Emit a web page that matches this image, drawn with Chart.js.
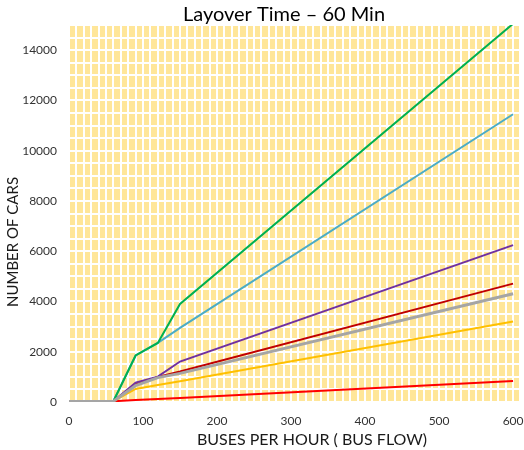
<!DOCTYPE html>
<html>
<head>
<meta charset="utf-8">
<script src="https://cdn.jsdelivr.net/npm/chart.js@4"></script>
<style>
  html, body { margin: 0; padding: 0; background: #fff; }
  #wrap { width: 524px; height: 450px; }
</style>
</head>
<body>
<div id="wrap"><canvas id="chart" width="524" height="450"></canvas></div>
<script>
// bus flow (buses per hour)
const busFlow = [0, 30, 60, 90, 120, 150, 600];

// number of cars, one array per line
const greenCars  = [20, 20, 30, 1850, 2350, 3900, 15050];
const blueCars   = [20, 20, 30, 1850, 2350, 2950, 11450];
const purpleCars = [20, 20, 30, 770, 1010, 1610, 6240];
const redCars    = [20, 20, 30, 700, 1000, 1210, 4710];
const greyCars   = [20, 20, 30, 650, 970, 1140, 4310];
const yellowCars = [20, 20, 30, 520, 675, 826, 3206];
const brightRed  = [20, 20, 30, 75, 120, 160, 838];

const chartTitle = 'Layover Time \u2013 60 Min';
const xTitle = 'BUSES PER HOUR ( BUS FLOW)';
const yTitle = 'NUMBER OF CARS';

function pts(ys) {
    return ys.map((y, i) => ({ x: busFlow[i], y: y }));
}

function line(ys, color, width, order) {
    return {
        data: pts(ys),
        borderColor: color,
        backgroundColor: color,
        borderWidth: width,
        pointRadius: 0,
        tension: 0,
        fill: false,
        order: order
    };
}

// yellow plot background + texts
const decor = {
    id: 'decor',
    beforeDraw(chart) {
        const { ctx, chartArea: a } = chart;
        ctx.save();
        ctx.fillStyle = '#FFE699';
        ctx.fillRect(a.left, a.top, a.right - a.left, a.bottom - a.top);
        ctx.restore();
    },
    afterDraw(chart) {
        const ctx = chart.ctx;
        ctx.save();
        ctx.fillStyle = '#000';
        ctx.textAlign = 'center';
        ctx.textBaseline = 'middle';
        ctx.font = '20px Lato';
        ctx.fillText(chartTitle, 284, 15);
        ctx.fillStyle = '#1a1a1a';
        ctx.font = '16px Lato';
        ctx.fillText(xTitle, 312, 440);
        ctx.translate(13, 242);
        ctx.rotate(-Math.PI / 2);
        ctx.font = '15px Lato';
        ctx.fillText(yTitle, 0, 0);
        ctx.restore();
    }
};

new Chart(document.getElementById('chart').getContext('2d'), {
    type: 'line',
    data: {
        datasets: [
            line(greyCars, '#A5A5A5', 3, 0),
            line(greenCars, '#00B050', 2, 1),
            line(blueCars, '#4BACC6', 2, 1),
            line(purpleCars, '#7030A0', 2, 1),
            line(redCars, '#C00000', 2, 1),
            line(yellowCars, '#FFC000', 2, 1),
            line(brightRed, '#FF0000', 2, 1)
        ]
    },
    options: {
        responsive: false,
        animation: false,
        layout: { padding: { top: 25, right: 5, left: 0, bottom: 0 } },
        plugins: {
            legend: { display: false },
            title: { display: false },
            tooltip: { enabled: false }
        },
        scales: {
            x: {
                type: 'linear',
                min: 0,
                max: 608,
                afterFit: s => { s.height = 48; s.paddingLeft = 0; s.paddingRight = 0; },
                grid: { color: '#ffffff', lineWidth: 2, drawTicks: false },
                border: { display: false },
                ticks: {
                    stepSize: 10,
                    includeBounds: false,
                    autoSkip: false,
                    maxRotation: 0,
                    padding: 12,
                    color: '#333',
                    font: { family: 'Lato', size: 12 },
                    callback: v => (v % 100 === 0 ? v : '')
                }
            },
            y: {
                min: 0,
                max: 15000,
                afterFit: s => { s.width = 69; s.paddingTop = 0; s.paddingBottom = 0; },
                grid: { color: '#ffffff', lineWidth: 2, drawTicks: false },
                border: { display: false },
                ticks: {
                    stepSize: 500,
                    autoSkip: false,
                    padding: 12,
                    color: '#333',
                    font: { family: 'Lato', size: 12 },
                    callback: v => (v % 2000 === 0 ? v : '')
                }
            }
        }
    },
    plugins: [decor]
});
</script>
</body>
</html>
